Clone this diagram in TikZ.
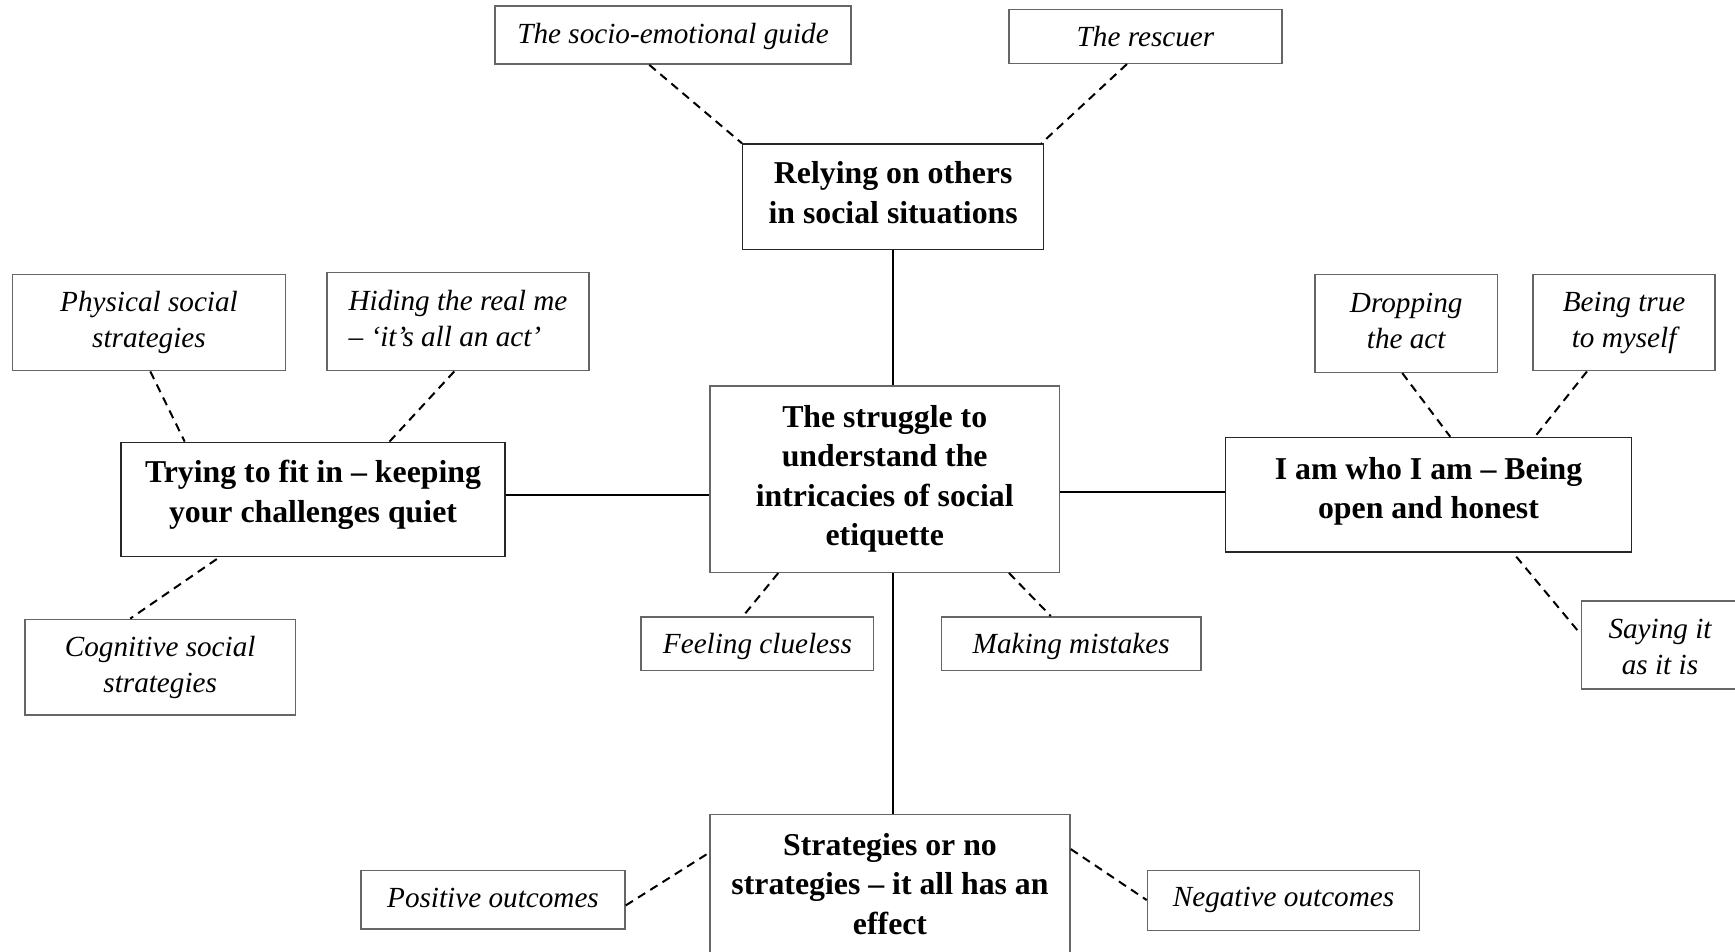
\documentclass[tikz,border=0pt]{standalone}
\usepackage{fontspec}
\setmainfont{Liberation Serif}
\begin{document}
\begin{tikzpicture}[x=1pt,y=-1pt,
  box/.style={draw=black!60, line width=1.5pt, rectangle, inner sep=0pt, fill=white},
  mainbox/.style={box, draw=black!85},
  hubbox/.style={box},
  mtext/.style={align=center, inner sep=0pt, font=\fontsize{31.8}{39.5}\selectfont\bfseries},
  stext/.style={align=center, inner sep=0pt, font=\fontsize{29.2}{36}\selectfont\itshape},
  link/.style={line width=2pt, black},
  dlink/.style={line width=2pt, black, dash pattern=on 8.5pt off 6pt}]
\fill[white] (0,0) rectangle (1735,951);
\useasboundingbox (0,0) rectangle (1735,951);
% main boxes
\node[mainbox, minimum width=301pt, minimum height=105.3pt,
  label={[mtext, yshift=4pt]center:{Relying on others\\in social situations}}] (rel) at (893.2,196.7) {};
\node[hubbox, minimum width=349.4pt, minimum height=186.5pt,
  label={[mtext]center:{The struggle to\\understand the\\intricacies of social\\etiquette}}] (cen) at (884.7,479) {};
\node[mainbox, minimum width=384pt, minimum height=114pt,
  label={[mtext, yshift=4.5pt]center:{Trying to fit in -- keeping\\your challenges quiet}}] (try) at (313,499.3) {};
\node[mainbox, minimum width=406.4pt, minimum height=114.4pt,
  label={[mtext, yshift=3.5pt]center:{I am who I am -- Being\\open and honest}}] (iam) at (1428.5,494.7) {};
\node[hubbox, minimum width=360pt, minimum height=148pt,
  label={[mtext, yshift=4.5pt]center:{Strategies or no\\strategies -- it all has an\\effect}}] (str) at (890,888.4) {};
% sub boxes
\node[box, minimum width=356.4pt, minimum height=58.3pt,
  label={[stext, yshift=-2pt]center:{The socio-emotional guide}}] (soc) at (673,34.9) {};
\node[box, minimum width=272.6pt, minimum height=54pt,
  label={[stext]center:{The rescuer}}] (resc) at (1145.5,36.3) {};
\node[box, minimum width=272.7pt, minimum height=96pt,
  label={[stext]center:{Physical social\\strategies}}] (phys) at (149,322.7) {};
\node[box, minimum width=262pt, minimum height=98pt,
  label={[stext, align=left, yshift=3pt]center:{Hiding the real me\\-- ‘it’s all an act’}}] (hid) at (458,321.7) {};
\node[box, minimum width=270.9pt, minimum height=95.7pt,
  label={[stext]center:{Cognitive social\\strategies}}] (cog) at (160.2,667.2) {};
\node[box, minimum width=232.4pt, minimum height=53.9pt,
  label={[stext, yshift=-3pt]center:{Feeling clueless}}] (feel) at (757.4,643.7) {};
\node[box, minimum width=259.6pt, minimum height=53.9pt,
  label={[stext, yshift=-3pt]center:{Making mistakes}}] (mak) at (1071.2,643.7) {};
\node[box, minimum width=182.4pt, minimum height=97.6pt,
  label={[stext, yshift=3pt]center:{Dropping\\the act}}] (drop) at (1406.2,323.5) {};
\node[box, minimum width=182.2pt, minimum height=96pt,
  label={[stext]center:{Being true\\to myself}}] (being) at (1624.1,322.7) {};
\node[box, minimum width=157pt, minimum height=88pt,
  label={[stext, yshift=-2pt]center:{Saying it\\as it is}}] (say) at (1660,644.8) {};
\node[box, minimum width=264pt, minimum height=58.3pt,
  label={[stext, yshift=2pt]center:{Positive outcomes}}] (pos) at (493,899.6) {};
\node[box, minimum width=272.1pt, minimum height=60pt,
  label={[stext, yshift=1pt]center:{Negative outcomes}}] (neg) at (1283.5,900.5) {};
% solid connectors
\draw[link] (rel.south) -- (rel.south |- cen.north);
\draw[link] (rel.south |- cen.south) -- (rel.south |- str.north);
\draw[link] ([yshift=4pt]try.east) -- ([yshift=4pt]try.east -| cen.west);
\draw[link] ([yshift=3pt]iam.west -| cen.east) -- ([yshift=3pt]iam.west);
% dashed connectors
\draw[dlink] ([xshift=155.2pt]soc.south west) -- (rel.north west);
\draw[dlink] ([xshift=118.5pt]resc.south west) -- ([xshift=-3pt]rel.north east);
\draw[dlink] ([xshift=138.4pt]phys.south west) -- ([xshift=64.4pt]try.north west);
\draw[dlink] ([xshift=128pt]hid.south west) -- ([xshift=269.3pt]try.north west);
\draw[dlink] ([xshift=96.5pt,yshift=-2pt]try.south west) -- ([xshift=106.2pt]cog.north west);
\draw[dlink] ([xshift=69pt]cen.south west) -- ([xshift=102.7pt]feel.north west);
\draw[dlink] ([xshift=299.7pt]cen.south west) -- ([xshift=110.1pt]mak.north west);
\draw[dlink] ([xshift=88pt]drop.south west) -- ([xshift=225.7pt]iam.north west);
\draw[dlink] ([xshift=54.7pt]being.south west) -- ([xshift=310.4pt]iam.north west);
\draw[dlink] ([xshift=291.7pt,yshift=-4pt]iam.south west) -- ([yshift=-34.2pt]say.north west);
\draw[dlink] ([yshift=-35.7pt]pos.north east) -- ([yshift=-39pt]str.north west);
\draw[dlink] ([yshift=-35.4pt]str.north east) -- ([yshift=-30.3pt]neg.north west);
\end{tikzpicture}
\end{document}
